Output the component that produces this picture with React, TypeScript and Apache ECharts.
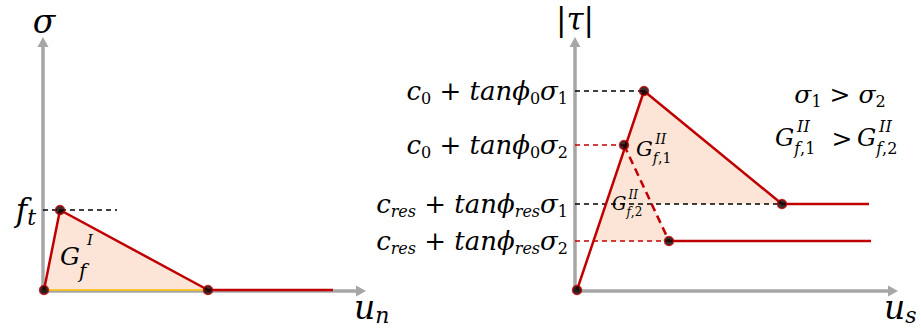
import React, { useEffect, useRef } from "react";
import * as echarts from "echarts";

const RED = "#C00000";
const FILL = "#FCE4D6";
const AXIS_GREY = "#A6A6A6";
const GOLD = "#FFC000";
const FONT = "'DejaVu Serif', 'Liberation Serif', serif";

// ---- Mode I panel: sigma vs u_n ----
const modeIAxisMax = [318, 249];
const modeICurve = [[1, 1], [17, 81], [165, 1], [290, 1]];
const modeIKinks = [[1, 1], [17, 81], [165, 1]];
const modeIArea = [[1, 1], [17, 81], [165, 1]];
const modeIBase = [[1, 1], [165, 1]];
const modeIGuide = [[0, 81], [74, 81]];
const modeILevels = [81];
const modeILevelLabels = ["{f|f}{t|t}"];

// ---- Mode II panel: |tau| vs u_s ----
const modeIIAxisMax = [318, 249];
const curveSigma1 = [[2, 1], [69, 200], [207, 87], [294, 87]];
const curveSigma2Soft = [[49, 146], [94, 50]];
const curveSigma2Res = [[94, 50], [296, 50]];
const modeIIKinks = [[2, 1], [69, 200], [49, 146], [207, 87], [94, 50]];
const modeIIArea = [[18, 50], [69, 200], [207, 87], [77, 87], [94, 50]];
const guideBlack = [
  [[0, 200], [69, 200]],
  [[0, 87], [207, 87]],
];
const guideRed = [
  [[0, 146], [49, 146]],
  [[0, 50], [94, 50]],
];
const modeIILevels = [200, 146, 87, 50];
const modeIILevelLabels = [
  "{i|c}{s|0}{r| + }{i|tanϕ}{s|0}{i|σ}{s|1}",
  "{i|c}{s|0}{r| + }{i|tanϕ}{s|0}{i|σ}{s|2}",
  "{i|c}{si|res}{r| + }{i|tanϕ}{si|res}{i|σ}{s|1}",
  "{i|c}{si|res}{r| + }{i|tanϕ}{si|res}{i|σ}{s|2}",
];

const levelRich = {
  i: { fontFamily: FONT, fontStyle: "italic", fontSize: 26, color: "#000", opacity: 1 },
  r: { fontFamily: FONT, fontSize: 26, color: "#000", opacity: 1 },
  s: { fontFamily: FONT, fontSize: 16, color: "#000", opacity: 1, padding: [15, 0, 0, 0] },
  si: { fontFamily: FONT, fontStyle: "italic", fontSize: 16, color: "#000", opacity: 1, padding: [15, 0, 0, 0] },
};
const ftRich = {
  f: { fontFamily: FONT, fontStyle: "italic", fontSize: 31, color: "#000", opacity: 1 },
  t: { fontFamily: FONT, fontStyle: "italic", fontSize: 22, color: "#000", opacity: 1, padding: [15, 0, 0, 0] },
};

function axis(gridIndex: number, max: number) {
  return {
    type: "value",
    gridIndex,
    min: 0,
    max,
    axisLine: {
      show: true,
      onZero: false,
      lineStyle: { color: AXIS_GREY, width: 3.5 },
      symbol: ["none", "triangle"],
      symbolSize: [11, 10],
    },
    axisTick: { show: false },
    axisLabel: { show: false },
    splitLine: { show: false },
  };
}

function line(grid: number, data: number[][], color: string, width: number, type: any, z = 3) {
  return {
    type: "line",
    xAxisIndex: grid,
    yAxisIndex: grid,
    data,
    symbol: "none",
    silent: true,
    z,
    lineStyle: { color, width, type },
  };
}

function area(grid: number, pts: number[][]) {
  return {
    type: "custom",
    xAxisIndex: grid,
    yAxisIndex: grid,
    silent: true,
    z: 1,
    data: pts,
    encode: { x: 0, y: 1 },
    renderItem: (params: any, api: any) => {
      if (params.dataIndex !== 0) return null;
      return {
        type: "polygon",
        shape: { points: pts.map((p) => api.coord(p)) },
        style: { fill: FILL },
      };
    },
  };
}

function dots(grid: number, data: number[][]) {
  return {
    type: "scatter",
    xAxisIndex: grid,
    yAxisIndex: grid,
    data,
    symbol: "circle",
    symbolSize: 9,
    silent: true,
    z: 6,
    itemStyle: { color: "#000", borderColor: RED, borderWidth: 1.5 },
  };
}

function levelLabels(grid: number, levels: number[], labels: string[], rich: any) {
  return {
    type: "scatter",
    xAxisIndex: grid,
    yAxisIndex: grid,
    symbol: "circle",
    symbolSize: 0,
    silent: true,
    z: 7,
    itemStyle: { color: "#000", opacity: 1 },
    data: levels.map((v, i) => ({ value: [0, v], name: labels[i] })),
    label: {
      show: true,
      position: "left",
      distance: 7,
      color: "#000",
      opacity: 1,
      textBorderWidth: 0,
      formatter: (p: any) => p.name,
      rich,
    },
  };
}

function txt(x: number, y: number, text: string, size: number, opts: any = {}) {
  return {
    type: "text",
    x,
    y,
    silent: true,
    z: 10,
    style: {
      text,
      fontFamily: FONT,
      fontStyle: opts.upright ? "normal" : "italic",
      fontSize: size,
      fill: "#000",
      align: opts.align || "left",
      verticalAlign: "middle",
      rich: opts.rich,
    },
  };
}

const symRich = (main: number, sub: number, pad: number) => ({
  i: { fontFamily: FONT, fontStyle: "italic", fontSize: main, fill: "#000" },
  r: { fontFamily: FONT, fontStyle: "normal", fontSize: main, fill: "#000" },
  s: { fontFamily: FONT, fontStyle: "normal", fontSize: sub, fill: "#000", padding: [pad, 0, 0, 0] },
  si: { fontFamily: FONT, fontStyle: "italic", fontSize: sub, fill: "#000", padding: [pad, 0, 0, 0] },
});

function gSymbol(x: number, y: number, size: number, sup: string, sub: string) {
  const small = Math.round(size * 0.66);
  return [
    txt(x, y, "G", size),
    txt(x + size * 0.92, y - size * 0.5, sup, small),
    txt(x + size * 0.8, y + size * 0.45, sub, small, {
      rich: {
        i: { fontFamily: FONT, fontStyle: "italic", fontSize: small, fill: "#000" },
        r: { fontFamily: FONT, fontStyle: "normal", fontSize: small, fill: "#000" },
      },
    }),
  ];
}

const option: any = {
  animation: false,
  backgroundColor: "#fff",
  grid: [
    { left: 43, top: 42, width: modeIAxisMax[0], height: modeIAxisMax[1] },
    { left: 575, top: 42, width: modeIIAxisMax[0], height: modeIIAxisMax[1] },
  ],
  xAxis: [axis(0, modeIAxisMax[0]), axis(1, modeIIAxisMax[0])],
  yAxis: [axis(0, modeIAxisMax[1]), axis(1, modeIIAxisMax[1])],
  series: [
    area(0, modeIArea),
    area(1, modeIIArea),
    line(0, modeIBase, GOLD, 1.5, "solid", 2),
    line(0, modeIGuide, "#000", 1.3, [5, 4], 2),
    ...guideBlack.map((d) => line(1, d, "#000", 1.3, [5, 4], 2)),
    ...guideRed.map((d) => line(1, d, RED, 1.3, [5, 4], 2)),
    line(0, modeICurve, RED, 2.5, "solid"),
    line(1, curveSigma1, RED, 2.5, "solid"),
    line(1, curveSigma2Res, RED, 2.5, "solid"),
    line(1, curveSigma2Soft, RED, 2.5, [8, 5]),
    dots(0, modeIKinks),
    dots(1, modeIIKinks),
    levelLabels(0, modeILevels, modeILevelLabels, ftRich),
    levelLabels(1, modeIILevels, modeIILevelLabels, levelRich),
  ],
  graphic: [
    txt(44, 21.5, "σ", 33, { align: "center" }),
    txt(575, 19, "{r||}{i|τ}{r||}", 31, { align: "center", rich: symRich(31, 20, 0) }),
    txt(354, 307, "{i|u}{si|n}", 33, { rich: symRich(33, 22, 17) }),
    txt(884, 307, "{i|u}{si|s}", 33, { rich: symRich(33, 22, 17) }),
    // G_f^I
    txt(60, 256.5, "G", 25),
    txt(79, 271, "f", 20),
    txt(87, 240, "I", 15),
    // G_f,1^II and G_f,2^II
    ...gSymbol(636, 149, 21, "II", "{i|f}{r|,1}"),
    ...gSymbol(612, 203.5, 18, "II", "{i|f}{r|,2}"),
    // right-hand notes
    txt(840, 94, "{i|σ}{s|1}{r| > }{i|σ}{s|2}", 25, { align: "center", rich: symRich(25, 16, 14) }),
    ...gSymbol(775, 138, 24, "II", "{i|f}{r|,1}"),
    txt(842, 138, ">", 25, { align: "center", upright: true }),
    ...gSymbol(857, 138, 24, "II", "{i|f}{r|,2}"),
  ],
};

export default function App() {
  const ref = useRef<HTMLDivElement>(null);
  useEffect(() => {
    if (!ref.current) return;
    const chart = echarts.init(ref.current, null, { renderer: "svg" });
    chart.setOption(option);
    return () => chart.dispose();
  }, []);
  return (
    <div
      ref={ref}
      style={{ position: "absolute", left: 0, top: 0, width: 921, height: 335, background: "#fff" }}
    />
  );
}
